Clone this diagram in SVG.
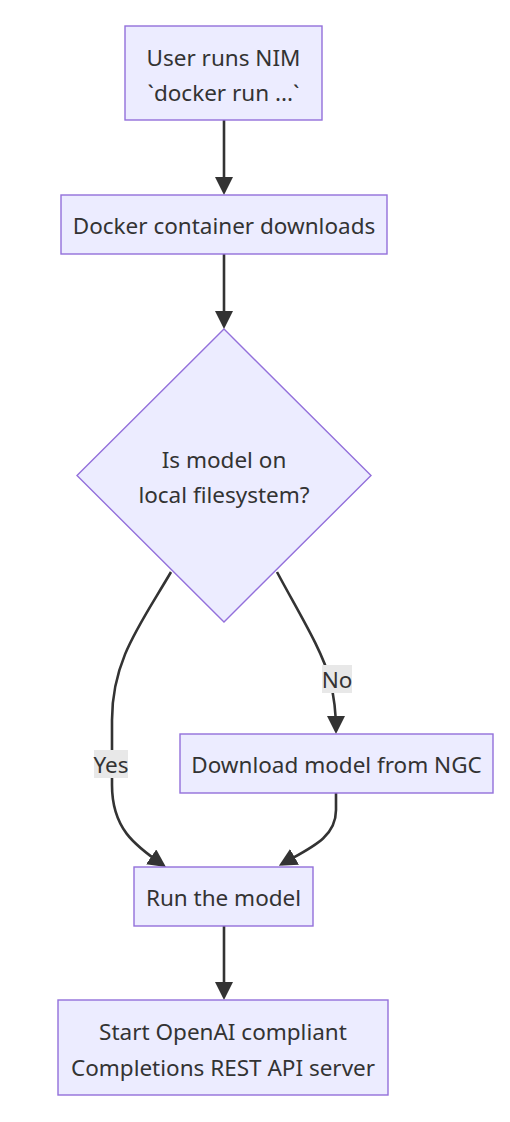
<svg xmlns="http://www.w3.org/2000/svg" width="510" height="1122" viewBox="0 0 510 1122">
<defs>
<style>
.node rect,.node polygon{fill:#ECECFF;stroke:#9370DB;stroke-width:1.4}
.node text,.lbl text{font-family:"Noto Sans","Open Sans","DejaVu Sans",sans-serif;font-size:22.5px;fill:#333333;text-anchor:middle;dominant-baseline:central}
.edge{fill:none;stroke:#333333;stroke-width:2.6;marker-end:url(#arrow)}
.lbl rect{fill:#e8e8e8}
</style>
<marker id="arrow" viewBox="0 0 10 10" refX="8" refY="5" markerUnits="userSpaceOnUse" markerWidth="18" markerHeight="18" orient="auto">
<path d="M0,0 L10,5 L0,10 z" fill="#333333"/>
</marker>
</defs>
<rect width="510" height="1122" fill="#ffffff"/>
<g id="edges">
<path class="edge" d="M224,120 L224,191.4"/>
<path class="edge" d="M224,254 L224,325.4"/>
<path class="edge" d="M171,572 C140,625 112,660 112,720 L112,785 C112,828 134,845 163,865"/>
<path class="edge" d="M277,572 C300,615 322,650 330,680 C335,700 336,712 336,730.4"/>
<path class="edge" d="M336,793 L336,810 C336,838 310,848 282,864"/>
<path class="edge" d="M224,926 L224,996.4"/>
</g>
<g id="edge-labels">
<g class="lbl" id="label-yes"><rect x="94" y="750" width="34" height="28"/><text x="111" y="764">Yes</text></g>
<g class="lbl" id="label-no"><rect x="322" y="665" width="30" height="28"/><text x="337" y="679">No</text></g>
</g>
<g class="node" id="node-user"><rect x="125" y="26" width="197" height="94"/><text x="223.5" y="57">User runs NIM</text><text x="223.5" y="92">`docker run ...`</text></g>
<g class="node" id="node-docker"><rect x="61" y="195" width="326" height="59"/><text x="224" y="225">Docker container downloads</text></g>
<g class="node" id="node-decision"><polygon points="224,329 371,475.5 224,622 77,475.5"/><text x="224" y="459">Is model on</text><text x="224" y="494">local filesystem?</text></g>
<g class="node" id="node-download"><rect x="180" y="734" width="313" height="59"/><text x="336.5" y="764">Download model from NGC</text></g>
<g class="node" id="node-run"><rect x="134" y="867" width="179" height="59"/><text x="223.5" y="897">Run the model</text></g>
<g class="node" id="node-start"><rect x="58" y="1000" width="330" height="95"/><text x="223" y="1031">Start OpenAI compliant</text><text x="223" y="1067">Completions REST API server</text></g>
</svg>
